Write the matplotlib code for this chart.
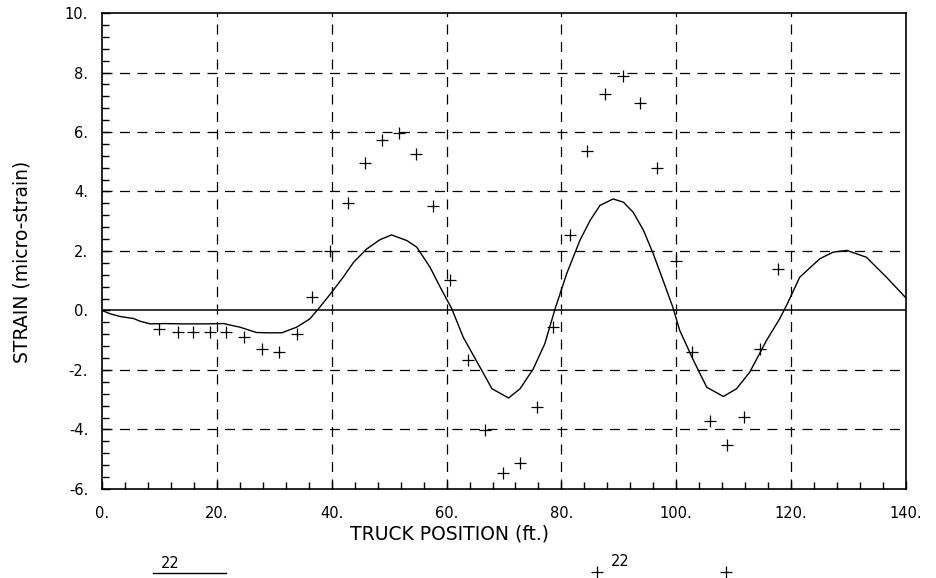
import matplotlib
matplotlib.use("Agg")
import matplotlib.pyplot as plt
from matplotlib.ticker import MultipleLocator, FixedLocator

# measured strain (the "+" marks)
meas_x = [10.0, 13.2, 15.8, 18.8, 21.6, 24.8, 27.9, 30.8, 33.9, 36.6,
          39.7, 42.8, 45.8, 48.7, 51.8, 54.7, 57.7, 60.6, 63.7, 66.7,
          69.8, 72.7, 75.7, 78.6, 81.5, 84.5, 87.6, 90.7, 93.7, 96.7,
          99.9, 102.7, 105.9, 108.8, 111.8, 114.6, 117.7]
meas_y = [-0.63, -0.72, -0.72, -0.72, -0.72, -0.90, -1.30, -1.39, -0.78, 0.45,
          2.00, 3.62, 4.95, 5.74, 5.96, 5.25, 3.52, 1.03, -1.65, -4.03,
          -5.46, -5.13, -3.25, -0.54, 2.54, 5.37, 7.27, 7.89, 6.99, 4.80,
          1.67, -1.41, -3.71, -4.52, -3.58, -1.30, 1.40]

# calculated strain (solid line)
calc_x = [0.0, 1.4, 3.1, 5.5, 6.6, 8.4, 11.0, 14.0, 18.0, 21.2, 22.3, 24.0,
          26.9, 29.0, 31.3, 33.9, 36.2, 37.7, 39.7, 42.0, 43.8, 46.1, 48.4,
          50.4, 53.1, 54.8, 57.1, 58.9, 60.9, 62.9, 65.8, 67.9, 70.8, 72.8,
          75.1, 77.1, 78.9, 80.9, 83.2, 85.0, 86.7, 89.0, 90.8, 92.5, 94.3,
          96.0, 97.7, 99.4, 100.6, 103.0, 105.3, 108.2, 110.5, 112.8, 115.7,
          118.0, 119.2, 121.5, 125.0, 127.3, 129.7, 133.1, 136.6, 140.0]
calc_y = [0.0, -0.11, -0.20, -0.27, -0.36, -0.45, -0.44, -0.45, -0.45, -0.44,
          -0.49, -0.56, -0.74, -0.75, -0.75, -0.56, -0.28, 0.06, 0.54, 1.12,
          1.62, 2.07, 2.38, 2.54, 2.35, 2.13, 1.46, 0.78, 0.06, -0.90, -1.90,
          -2.63, -2.94, -2.63, -1.96, -1.12, 0.06, 1.23, 2.35, 3.03, 3.53,
          3.75, 3.64, 3.30, 2.69, 1.90, 1.01, 0.11, -0.67, -1.68, -2.58,
          -2.89, -2.63, -2.07, -1.01, -0.28, 0.17, 1.12, 1.74, 1.96, 2.02,
          1.79, 1.12, 0.42]

x_ticks = [0, 20, 40, 60, 80, 100, 120, 140]
x_labels = ["0.", "20.", "40.", "60.", "80.", "100.", "120.", "140."]
y_ticks = [-6, -4, -2, 0, 2, 4, 6, 8, 10]
y_labels = ["-6.", "-4.", "-2.", "0.", "2.", "4.", "6.", "8.", "10."]

plt.rcParams['font.family'] = 'DejaVu Sans'

fig = plt.figure(figsize=(9.37, 5.78), dpi=100)
ax = fig.add_axes([0.1089, 0.154, 0.858, 0.8235])

ax.set_xlim(0, 140)
ax.set_ylim(-6, 10)

# dashed grid at the inner major ticks
for gx in x_ticks[1:-1]:
    ax.axvline(gx, color='k', lw=0.9, ls=(0, (8, 6)))
for gy in y_ticks[1:-1]:
    if gy == 0:
        ax.axhline(gy, color='k', lw=1.1)
    else:
        ax.axhline(gy, color='k', lw=0.9, ls=(0, (8, 6)))

ax.plot(calc_x, calc_y, color='k', lw=1.0)
ax.plot(meas_x, meas_y, ls='none', marker='+', color='k', ms=9, mew=0.9)

ax.xaxis.set_major_locator(FixedLocator(x_ticks))
ax.yaxis.set_major_locator(FixedLocator(y_ticks))
ax.xaxis.set_minor_locator(MultipleLocator(4))
ax.yaxis.set_minor_locator(MultipleLocator(0.4))
ax.set_xticklabels(x_labels)
ax.set_yticklabels(y_labels)
ax.tick_params(axis='both', which='both', direction='in', top=False, right=False,
               labelsize=10.5, color='k')
ax.tick_params(axis='both', which='major', length=6, width=1)
ax.tick_params(axis='both', which='minor', length=5, width=1)
ax.tick_params(axis='x', pad=12)
ax.tick_params(axis='y', pad=10)

for sp in ax.spines.values():
    sp.set_linewidth(1.2)

fig.text(22 / 937, 1 - 262 / 578, 'STRAIN (micro-strain)', fontsize=13.5,
         rotation=90, ha='center', va='center')
fig.text(450 / 937, 1 - 534 / 578, 'TRUCK POSITION (ft.)', fontsize=13.5,
         ha='center', va='center')

# key at the bottom
fig.text(170 / 937, 1 - 563 / 578, '22', fontsize=10.5, ha='center', va='center')
fig.add_artist(plt.Line2D([153 / 937, 226 / 937], [1 - 573 / 578, 1 - 573 / 578],
                          color='k', lw=1.0))
fig.add_artist(plt.Line2D([597 / 937], [1 - 572 / 578], ls='none', marker='+',
                          color='k', ms=9, mew=0.9))
fig.text(620 / 937, 1 - 562 / 578, '22', fontsize=10.5, ha='center', va='center')
fig.add_artist(plt.Line2D([726 / 937], [1 - 572 / 578], ls='none', marker='+',
                          color='k', ms=9, mew=0.9))

fig.savefig('out.png', dpi=100)
